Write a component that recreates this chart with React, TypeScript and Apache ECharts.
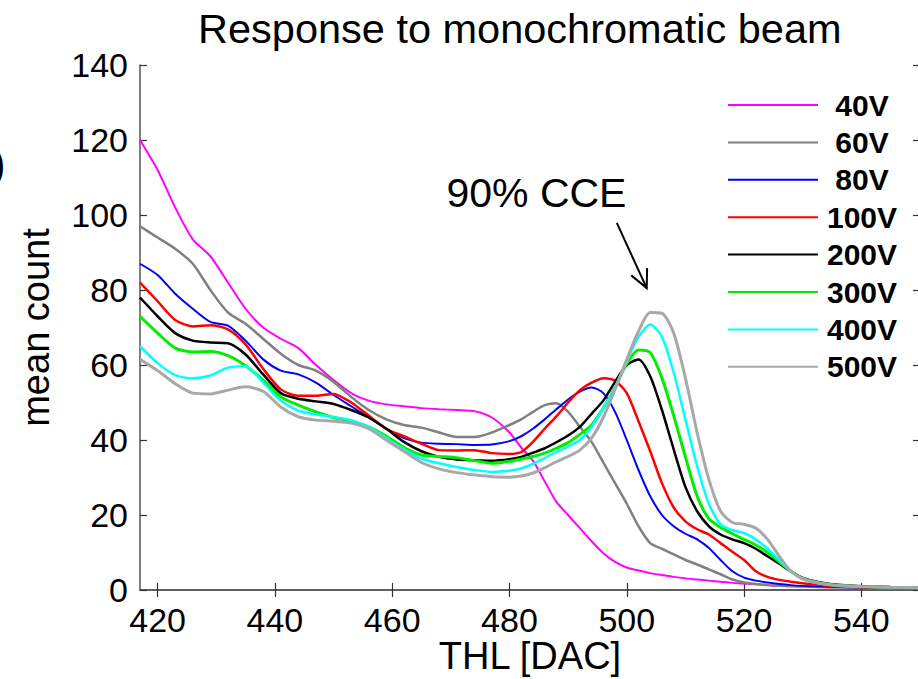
import React, { useEffect, useRef } from "react";
import * as echarts from "echarts";

const THL = [417, 420, 423, 426, 429, 432, 435, 438, 441, 444, 447, 450, 453, 456, 459, 462, 465, 468, 471, 474, 477, 480, 482, 484, 486, 488, 490, 492, 494, 496, 498, 500, 502, 504, 506, 508, 510, 512, 514, 516, 518, 520, 522, 524, 526, 528, 530, 533, 536, 540, 545, 550];

const V40 = [120, 112, 102, 93.5, 89, 82, 75, 70, 67, 64.5, 60, 56, 52.5, 50.5, 49.5, 49, 48.5, 48.2, 48, 47.7, 46, 42, 38, 34.5, 29, 23.5, 20, 16.5, 13, 9.8, 7.5, 6, 5.2, 4.5, 4, 3.5, 3.1, 2.8, 2.5, 2.2, 1.9, 1.7, 1.5, 1.3, 1.2, 1.1, 1, 0.8, 0.7, 0.6, 0.5, 0.5];
const V60 = [97, 94, 91, 87, 80, 74, 71, 67, 63, 60, 58.5, 55.5, 51.5, 48, 45.5, 44, 43.3, 42, 40.8, 40.8, 42, 44, 45.5, 47.5, 49.3, 49.8, 47.5, 43.5, 39.5, 34, 28.5, 23, 17, 12.5, 11, 9.5, 8, 6.8, 5.5, 4.2, 2.8, 2, 1.6, 1.3, 1.1, 1, 0.9, 0.8, 0.7, 0.6, 0.5, 0.5];
const V80 = [87, 84, 79, 75, 71.5, 70.5, 66.5, 61.5, 58.5, 57.5, 55.3, 52, 49, 46, 43, 40.5, 39.3, 39, 38.9, 38.7, 38.8, 39.7, 41, 43, 45.5, 48.2, 50.8, 52.9, 54, 52.5, 47.5, 40, 32, 25, 20, 17, 15, 13.5, 11.2, 8, 5, 3.3, 2.5, 2, 1.6, 1.3, 1.1, 0.9, 0.8, 0.7, 0.6, 0.5];
const V100 = [82, 77, 72, 70.3, 70.6, 69.5, 65.5, 59, 53.5, 51.8, 51.8, 52.3, 50, 46.5, 43, 41, 39, 37.3, 37.2, 37.3, 36.5, 36.3, 36.8, 39.5, 43, 46.3, 50, 53.3, 55.3, 56.5, 55.8, 52.5, 45, 37, 28.5, 22, 18.3, 16.2, 14.8, 12.5, 10.2, 8, 5, 3.5, 2.7, 2.2, 1.8, 1.3, 1, 0.8, 0.6, 0.5];
const V200 = [78, 73, 68.5, 66.5, 66, 65.8, 62.8, 57.5, 52.5, 51, 50.3, 49.6, 48, 46, 43, 39.5, 37, 35.5, 34.8, 34.6, 34.5, 34.9, 35.5, 36.6, 37.8, 39.4, 41.2, 43.5, 47, 50.5, 55.5, 60, 61.5, 57, 48, 37.5, 27.5, 21, 17, 14.8, 13.5, 12.5, 11, 9, 7, 5, 3.2, 2, 1.4, 1, 0.8, 0.7];
const V300 = [73, 68.5, 64.5, 63.5, 63.6, 62.5, 59.8, 56, 51.5, 49.3, 47.5, 46, 45, 43.5, 41, 38, 36, 35.6, 35.3, 34.5, 33.8, 34.3, 34.9, 35.6, 36.5, 37.8, 39.3, 41.5, 44, 48.5, 54, 60.4, 64, 63.3, 56.5, 46.5, 35.5, 25, 19, 16.7, 15, 13.5, 12, 10, 7.5, 5, 3, 1.8, 1.2, 0.9, 0.7, 0.6];
const V400 = [65, 60.5, 57.3, 56.5, 57.2, 59.3, 59.7, 55.3, 50.5, 47.8, 46.8, 46.1, 45.3, 43.5, 40.5, 37.5, 35, 33.8, 32.8, 32, 31.5, 31.8, 32.4, 33.6, 35.2, 36.8, 38.3, 40, 43.5, 48.5, 54, 61, 67.5, 70.8, 67.5, 58, 45.5, 33, 23, 17.5, 16, 15.2, 13.5, 11, 8, 5, 3, 1.7, 1.2, 0.9, 0.7, 0.6];
const V500 = [61.5, 58.5, 55, 52.5, 52.3, 53.3, 54.2, 53, 48.8, 46.2, 45.3, 45, 44.5, 43, 40, 37, 34, 32.3, 31.3, 30.7, 30.2, 30.1, 30.4, 31.2, 32.6, 34.2, 35.6, 37.3, 40.5, 46, 53.5, 61.5, 69, 74, 73.8, 68.5, 56.5, 42, 29.5, 21, 18, 17.5, 16.5, 13.5, 9, 5, 3, 1.8, 1.2, 0.9, 0.7, 0.6];

const SERIES_NAMES = ["40V", "60V", "80V", "100V", "200V", "300V", "400V", "500V"];
const SERIES_VALUES = [V40, V60, V80, V100, V200, V300, V400, V500];
const SERIES_COLORS = ["#ff00ff", "#808080", "#0000ff", "#ff0000", "#000000", "#00ee00", "#00ffff", "#a8a8a8"];
const SERIES_WIDTHS = [2, 2.5, 2, 2.5, 2.5, 3, 2.5, 3];

const X_TICKS = [420, 440, 460, 480, 500, 520, 540];
const TITLE = "Response to monochromatic beam";
const X_NAME = "THL [DAC]";
const Y_NAME = "mean count";
const ANNOTATION = "90% CCE";
const ANNOT_TEXT_AT = [484.6, 106];
const ARROW_TAIL = [498.3, 97.9];
const ARROW_TIP = [503.4, 80.5];

const FONT = "'Liberation Sans', Arial, Helvetica, sans-serif";

export default function App() {
  const ref = useRef<HTMLDivElement>(null);
  useEffect(() => {
    const chart = echarts.init(ref.current!, null, { renderer: "svg" });
    const axisLineStyle = { color: "#555", width: 1.5 };
    const tickStyle = { color: "#333", width: 1.2 };
    chart.setOption({
      animation: false,
      backgroundColor: "#fff",
      title: {
        text: TITLE,
        left: 193,
        top: 2,
        textStyle: { fontFamily: FONT, fontSize: 41.5, fontWeight: "normal", color: "#000" },
      },
      grid: { left: 140, right: -2, top: 65, bottom: 89, outerBoundsMode: "none", containLabel: false },
      legend: {
        data: SERIES_NAMES,
        orient: "vertical",
        left: 727,
        top: 90,
        padding: 0,
        itemWidth: 90,
        itemHeight: 14,
        itemGap: 7.4,
        itemStyle: { opacity: 0 },
        formatter: "{a|{name}}",
        textStyle: {
          rich: {
            a: { width: 78, align: "center", fontFamily: FONT, fontSize: 30, fontWeight: "bold", color: "#000", lineHeight: 30 },
          },
        },
      },
      xAxis: [
        {
          type: "value",
          min: 417,
          max: 550,
          position: "bottom",
          axisLine: { show: true, lineStyle: axisLineStyle },
          axisTick: { show: true, inside: true, length: 7, customValues: X_TICKS, lineStyle: tickStyle },
          axisLabel: { customValues: X_TICKS, fontFamily: FONT, fontSize: 34, color: "#000", margin: 13 },
          splitLine: { show: false },
          name: X_NAME,
          nameLocation: "middle",
          nameGap: 47,
          nameMoveOverlap: false,
          nameTextStyle: { fontFamily: FONT, fontSize: 38, color: "#000" },
        },
        {
          type: "value",
          min: 417,
          max: 550,
          position: "top",
          axisLine: { show: true, lineStyle: axisLineStyle },
          axisTick: { show: true, inside: true, length: 7, customValues: X_TICKS, lineStyle: tickStyle },
          axisLabel: { show: false },
          splitLine: { show: false },
        },
      ],
      yAxis: [
        {
          type: "value",
          min: 0,
          max: 140,
          interval: 20,
          position: "left",
          axisLine: { show: true, lineStyle: axisLineStyle },
          axisTick: { show: true, inside: true, length: 7, lineStyle: tickStyle },
          axisLabel: { fontFamily: FONT, fontSize: 34, color: "#000", margin: 12 },
          splitLine: { show: false },
          name: Y_NAME,
          nameLocation: "middle",
          nameGap: 85,
          nameMoveOverlap: false,
          nameRotate: 90,
          nameTextStyle: { fontFamily: FONT, fontSize: 38, color: "#000" },
        },
        {
          type: "value",
          min: 0,
          max: 140,
          interval: 20,
          position: "right",
          axisLine: { show: true, lineStyle: axisLineStyle },
          axisTick: { show: true, inside: true, length: 7, lineStyle: tickStyle },
          axisLabel: { show: false },
          splitLine: { show: false },
        },
      ],
      series: SERIES_NAMES.map((name, i) => ({
        name,
        type: "line",
        xAxisIndex: 0,
        yAxisIndex: 0,
        symbol: "none",
        smooth: 0.25,
        data: THL.map((x, j) => [x, SERIES_VALUES[i][j]]),
        lineStyle: { color: SERIES_COLORS[i], width: SERIES_WIDTHS[i] },
        itemStyle: { color: SERIES_COLORS[i] },
      })),
    });

    const toPx = (p: number[]) => chart.convertToPixel({ xAxisIndex: 0, yAxisIndex: 0 }, p) as number[];
    const t = toPx(ANNOT_TEXT_AT);
    const a0 = toPx(ARROW_TAIL);
    const a1 = toPx(ARROW_TIP);
    const back = Math.atan2(a0[1] - a1[1], a0[0] - a1[0]);
    const headLen = 20;
    const spread = 0.45;
    const w1 = [a1[0] + Math.cos(back + spread) * headLen, a1[1] + Math.sin(back + spread) * headLen];
    const w2 = [a1[0] + Math.cos(back - spread) * headLen, a1[1] + Math.sin(back - spread) * headLen];

    chart.setOption({
      graphic: [
        {
          type: "text",
          x: t[0],
          y: t[1],
          style: { text: ANNOTATION, fontFamily: FONT, fontSize: 41, fill: "#000", align: "center", verticalAlign: "middle" },
        },
        {
          type: "line",
          shape: { x1: a0[0], y1: a0[1], x2: a1[0], y2: a1[1] },
          style: { stroke: "#000", lineWidth: 2 },
        },
        {
          type: "polyline",
          shape: { points: [w1, a1, w2] },
          style: { stroke: "#000", lineWidth: 2, fill: null },
        },
        {
          type: "text",
          x: -9,
          y: 163,
          style: { text: ")", fontFamily: FONT, fontSize: 44, fill: "#000", verticalAlign: "middle" },
        },
      ],
    });

    return () => chart.dispose();
  }, []);
  return (
    <div
      ref={ref}
      style={{ position: "fixed", left: 0, top: 0, width: 918, height: 679, background: "#fff" }}
    />
  );
}
